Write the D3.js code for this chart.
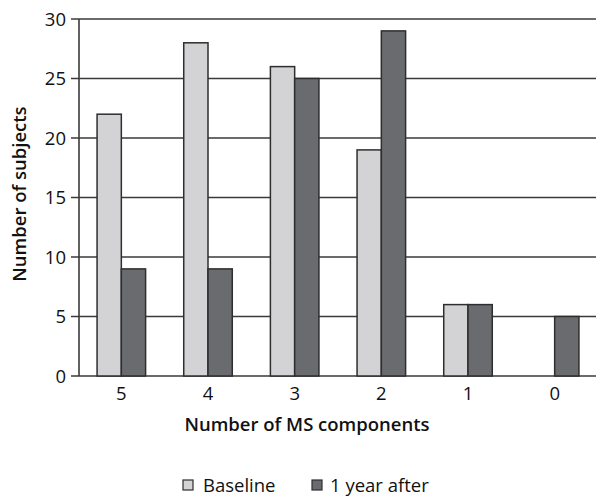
<!DOCTYPE html>
<html><head><meta charset="utf-8">
<script src="https://cdn.jsdelivr.net/npm/d3@7"></script>
<style>body{margin:0;background:#fff}svg{display:block}text{font-family:"Open Sans",sans-serif;fill:#111}</style>
</head><body>
<svg id="c" width="596" height="497"></svg>
<script>
const categories = ["5","4","3","2","1","0"];
const baseline = [22,28,26,19,6,0];
const after = [9,9,25,29,6,5];
const yTicks = [0,5,10,15,20,25,30];
const seriesNames = ["Baseline","1 year after"];
const colors = ["#d3d3d5","#6a6b6f"];

const svg = d3.select("#c");
const x = d3.scaleBand().domain(categories).range([78,598]).paddingInner(0.44).paddingOuter(0.22);
const y = d3.scaleLinear().domain([0,30]).range([376,19]);
const sub = d3.scaleBand().domain([0,1]).range([0,x.bandwidth()]);

// gridlines
svg.append("g").selectAll("line").data(yTicks).join("line")
  .attr("x1",71).attr("x2",596).attr("y1",d=>y(d)).attr("y2",d=>y(d))
  .attr("stroke","#3a3a3a").attr("stroke-width",1.6);
// y axis line
svg.append("line").attr("x1",79).attr("x2",79).attr("y1",y(30)).attr("y2",y(0))
  .attr("stroke","#3a3a3a").attr("stroke-width",1.6);
// y tick labels
svg.append("g").selectAll("text").data(yTicks).join("text")
  .attr("x",66).attr("y",d=>y(d)+6.5).attr("text-anchor","end")
  .style("font-size","18.5px").text(d=>d);

const data = categories.map((c,i)=>({c, v:[baseline[i],after[i]]}));
const g = svg.append("g");
data.forEach(d=>{
  d.v.forEach((v,j)=>{
    if(v<=0) return;
    g.append("rect").attr("x",x(d.c)+sub(j)).attr("width",sub.bandwidth())
      .attr("y",y(v)).attr("height",y(0)-y(v))
      .attr("fill",colors[j]).attr("stroke","#2e2e2e").attr("stroke-width",1.5);
  });
});
// x labels
svg.append("g").selectAll("text").data(categories).join("text")
  .attr("x",d=>x(d)+x.bandwidth()/2).attr("y",400).attr("text-anchor","middle")
  .style("font-size","18.5px").text(d=>d);

svg.append("text").attr("x",307).attr("y",431).attr("text-anchor","middle")
  .style("font-size","18.5px").style("font-weight","600").text("Number of MS components");
svg.append("text").attr("transform","translate(26,194) rotate(-90)").attr("text-anchor","middle")
  .style("font-size","18.5px").style("font-weight","600").text("Number of subjects");

// legend
const leg = [{x:183,tx:203},{x:312,tx:330}];
seriesNames.forEach((n,j)=>{
  svg.append("rect").attr("x",leg[j].x).attr("y",480).attr("width",10).attr("height",10)
    .attr("fill",colors[j]).attr("stroke","#2e2e2e").attr("stroke-width",1.2);
  svg.append("text").attr("x",leg[j].tx).attr("y",492).style("font-size","18.5px").text(n);
});
</script>
</body></html>
